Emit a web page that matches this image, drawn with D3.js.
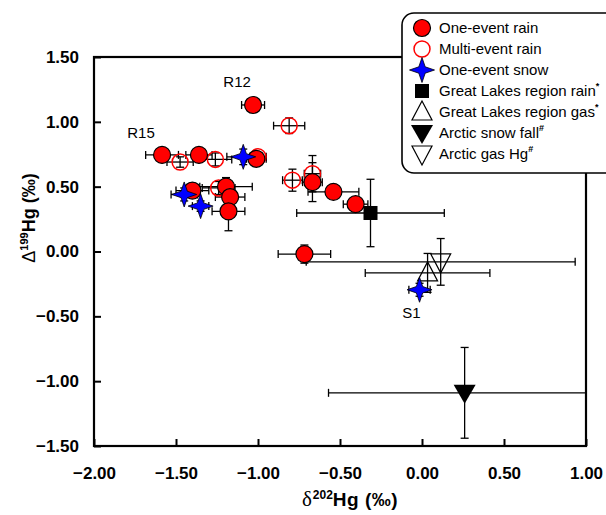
<!DOCTYPE html>
<html>
<head>
<meta charset="utf-8">
<script src="https://cdn.jsdelivr.net/npm/d3@7"></script>
<style>
  body { margin: 0; background: #fff; }
  svg text { font-family: Arial, "Liberation Sans", sans-serif; }
</style>
</head>
<body>
<div id="chart"></div>
<script>
// [x, y, xerr, yerr]
const oneEventRain = [
    [-1.03, 1.13, 0.07, 0.03],
    [-1.585, 0.745, 0.1, 0.05],
    [-1.36, 0.745, 0.08, 0.03],
    [-1.01, 0.715, 0.06, 0.03],
    [-1.195, 0.50, 0.16, 0.07],
    [-1.17, 0.42, 0.09, 0.04],
    [-1.18, 0.31, 0.1, 0.15],
    [-1.40, 0.47, 0.1, 0.04],
    [-0.668, 0.535, 0.06, 0.15],
    [-0.54, 0.46, 0.155, 0.04],
    [-0.405, 0.365, 0.075, 0.04],
    [-0.717, -0.02, 0.16, 0.07]
];
const multiEventRain = [
    [-1.475, 0.69, 0.08, 0.04],
    [-1.26, 0.71, 0.1, 0.05],
    [-0.81, 0.97, 0.095, 0.06],
    [-0.79, 0.55, 0.06, 0.085],
    [-0.668, 0.60, 0.05, 0.14],
    [-1.24, 0.49, 0.1, 0.05],
    [-1.0, 0.73, 0.05, 0.03]
];
const oneEventSnow = [
    [-1.09, 0.73, 0.1, 0.06],
    [-1.45, 0.44, 0.08, 0.05],
    [-1.35, 0.35, 0.05, 0.04],
    [-0.015, -0.295, 0.065, 0.05]
];
const greatLakesRain = [[-0.314, 0.297, 0.45, 0.26]];
const greatLakesGas = [[0.034, -0.165, 0.38, 0.15]];
const arcticSnow = [[0.26, -1.09, 0.83, 0.35]];
const arcticGas = [[0.114, -0.08, 0.82, 0.18]];

const pointLabels = [
    { text: "R12", x: -1.03, y: 1.13, dx: -16, dy: -18 },
    { text: "R15", x: -1.585, y: 0.745, dx: -21, dy: -17 },
    { text: "S1", x: -0.015, y: -0.295, dx: -8, dy: 28 }
];

const xTicks = [-2.0, -1.5, -1.0, -0.5, 0.0, 0.5, 1.0];
const yTicks = [-1.5, -1.0, -0.5, 0.0, 0.5, 1.0, 1.5];

const legendItems = [
    { label: "One-event rain", sup: "", type: "circleFill" },
    { label: "Multi-event rain", sup: "", type: "circleOpen" },
    { label: "One-event snow", sup: "", type: "star" },
    { label: "Great Lakes region rain", sup: "*", type: "square" },
    { label: "Great Lakes region gas", sup: "*", type: "triUpOpen" },
    { label: "Arctic snow fall", sup: "#", type: "triDownFill" },
    { label: "Arctic gas Hg", sup: "#", type: "triDownOpen" }
];

const width = 606, height = 515;
const margin = { top: 57, right: 20, bottom: 69, left: 94 };

const svg = d3.select("#chart").append("svg")
    .attr("width", width)
    .attr("height", height);

const x = d3.scaleLinear().domain([-2, 1]).range([margin.left, width - margin.right]);
const y = d3.scaleLinear().domain([-1.5, 1.5]).range([height - margin.bottom, margin.top]);

svg.append("clipPath").attr("id", "plotclip")
    .append("rect")
    .attr("x", x(-2)).attr("y", y(1.5))
    .attr("width", x(1) - x(-2)).attr("height", y(-1.5) - y(1.5));

// axes, ticks inside
const xAxis = d3.axisBottom(x).tickValues(xTicks).tickSize(-7).tickPadding(21)
    .tickFormat(d3.format(".2f"));
const yAxis = d3.axisLeft(y).tickValues(yTicks).tickSize(-7).tickPadding(15)
    .tickFormat(d3.format(".2f"));

svg.append("g")
    .attr("transform", "translate(0," + y(-1.5) + ")")
    .call(xAxis)
    .call(g => g.select(".domain").remove())
    .selectAll("text").style("font-size", "17px").style("font-weight", "bold").attr("fill", "#000");

svg.append("g")
    .attr("transform", "translate(" + x(-2) + ",0)")
    .call(yAxis)
    .call(g => g.select(".domain").remove())
    .selectAll("text").style("font-size", "17px").style("font-weight", "bold").attr("fill", "#000");

svg.selectAll(".tick line").attr("stroke", "#000").attr("stroke-width", 2);

// frame
svg.append("rect")
    .attr("x", x(-2)).attr("y", y(1.5))
    .attr("width", x(1) - x(-2)).attr("height", y(-1.5) - y(1.5))
    .attr("fill", "none").attr("stroke", "#000").attr("stroke-width", 2.2);

// axis titles
const xt = svg.append("text")
    .attr("x", (x(-2) + x(1)) / 2 + 10).attr("y", 506)
    .attr("text-anchor", "middle")
    .style("font-size", "19px");
xt.append("tspan").text("δ").style("font-family", "'Liberation Serif', serif").style("font-size", "21px");
xt.append("tspan").text("202").attr("dx", 1).attr("dy", -7).style("font-size", "12px").style("font-weight", "bold");
xt.append("tspan").text("Hg (‰)").attr("dy", 7).style("font-weight", "bold").style("letter-spacing", "0.5px");

const yt = svg.append("text")
    .attr("transform", "translate(35," + 218 + ") rotate(-90)")
    .attr("text-anchor", "middle")
    .style("font-size", "18px");
yt.append("tspan").text("Δ").style("font-size", "18px");
yt.append("tspan").text("199").attr("dy", -7).style("font-size", "11px").style("font-weight", "bold");
yt.append("tspan").text("Hg (‰)").attr("dy", 7).style("font-weight", "bold");

// error bars
const plot = svg.append("g").attr("clip-path", "url(#plotclip)");
const allSeries = [oneEventRain, multiEventRain, oneEventSnow, greatLakesRain, greatLakesGas, arcticSnow, arcticGas];
const cap = 4;

allSeries.forEach(series => {
    series.forEach(d => {
        const g = plot.append("g").attr("stroke", "#000").attr("stroke-width", 1.3);
        const cx = x(d[0]), cy = y(d[1]);
        const x0 = x(d[0] - d[2]), x1 = x(d[0] + d[2]);
        const y0 = y(d[1] - d[3]), y1 = y(d[1] + d[3]);
        g.append("line").attr("x1", x0).attr("x2", x1).attr("y1", cy).attr("y2", cy);
        g.append("line").attr("x1", x0).attr("x2", x0).attr("y1", cy - cap).attr("y2", cy + cap);
        g.append("line").attr("x1", x1).attr("x2", x1).attr("y1", cy - cap).attr("y2", cy + cap);
        g.append("line").attr("x1", cx).attr("x2", cx).attr("y1", y0).attr("y2", y1);
        g.append("line").attr("x1", cx - cap).attr("x2", cx + cap).attr("y1", y0).attr("y2", y0);
        g.append("line").attr("x1", cx - cap).attr("x2", cx + cap).attr("y1", y1).attr("y2", y1);
    });
});

// marker shapes
function starPath(R, r) {
    let pts = [];
    for (let i = 0; i < 8; i++) {
        const a = i * Math.PI / 4 - Math.PI / 2;
        const rad = i % 2 === 0 ? R : r;
        pts.push([rad * Math.cos(a), rad * Math.sin(a)]);
    }
    return "M" + pts.map(p => p.join(",")).join("L") + "Z";
}

function drawMarker(g, type, cx, cy) {
    const m = g.append("g").attr("transform", "translate(" + cx + "," + cy + ")");
    if (type === "circleFill") {
        m.append("circle").attr("r", 8.5).attr("fill", "#ff0000").attr("stroke", "#000").attr("stroke-width", 1.2);
    } else if (type === "circleOpen") {
        m.append("circle").attr("r", 8).attr("fill", "none").attr("stroke", "#ff0000").attr("stroke-width", 1.5);
    } else if (type === "star") {
        m.append("path").attr("d", starPath(12.5, 4.5)).attr("fill", "#0000ff").attr("stroke", "#000").attr("stroke-width", 0.8);
    } else if (type === "square") {
        m.append("rect").attr("x", -7).attr("y", -7).attr("width", 14).attr("height", 14).attr("fill", "#000");
    } else if (type === "triUpOpen") {
        m.append("path").attr("d", "M0,-11L10,8L-10,8Z").attr("fill", "none").attr("stroke", "#000").attr("stroke-width", 1.2);
    } else if (type === "triDownFill") {
        m.append("path").attr("d", "M-11,-8L11,-8L0,11Z").attr("fill", "#000");
    } else if (type === "triDownOpen") {
        m.append("path").attr("d", "M-10,-8L10,-8L0,11Z").attr("fill", "none").attr("stroke", "#000").attr("stroke-width", 1.2);
    }
}

const markerTypes = ["circleFill", "circleOpen", "star", "square", "triUpOpen", "triDownFill", "triDownOpen"];
const drawOrder = [3, 4, 6, 5, 1, 0, 2];
drawOrder.forEach(i => {
    allSeries[i].forEach(d => drawMarker(svg, markerTypes[i], x(d[0]), y(d[1])));
});

// point labels
svg.selectAll(".plabel")
    .data(pointLabels)
    .enter().append("text")
    .attr("class", "plabel")
    .attr("x", d => x(d.x) + d.dx)
    .attr("y", d => y(d.y) + d.dy)
    .attr("text-anchor", "middle")
    .style("font-size", "15px")
    .text(d => d.text);

// legend
const lg = svg.append("g").attr("transform", "translate(402,13)");
lg.append("rect")
    .attr("width", 215).attr("height", 160).attr("rx", 12).attr("ry", 12)
    .attr("fill", "#fff").attr("stroke", "#000").attr("stroke-width", 1.6);

legendItems.forEach((item, i) => {
    const ly = 15 + i * 21;
    drawMarker(lg, item.type, 20, ly);
    const t = lg.append("text")
        .attr("x", 37).attr("y", ly + 5)
        .style("font-size", "15px")
        .text(item.label);
    if (item.sup) {
        t.append("tspan").text(item.sup).attr("dy", -7).style("font-size", "9px").style("font-weight", "bold");
    }
});
</script>
</body>
</html>
